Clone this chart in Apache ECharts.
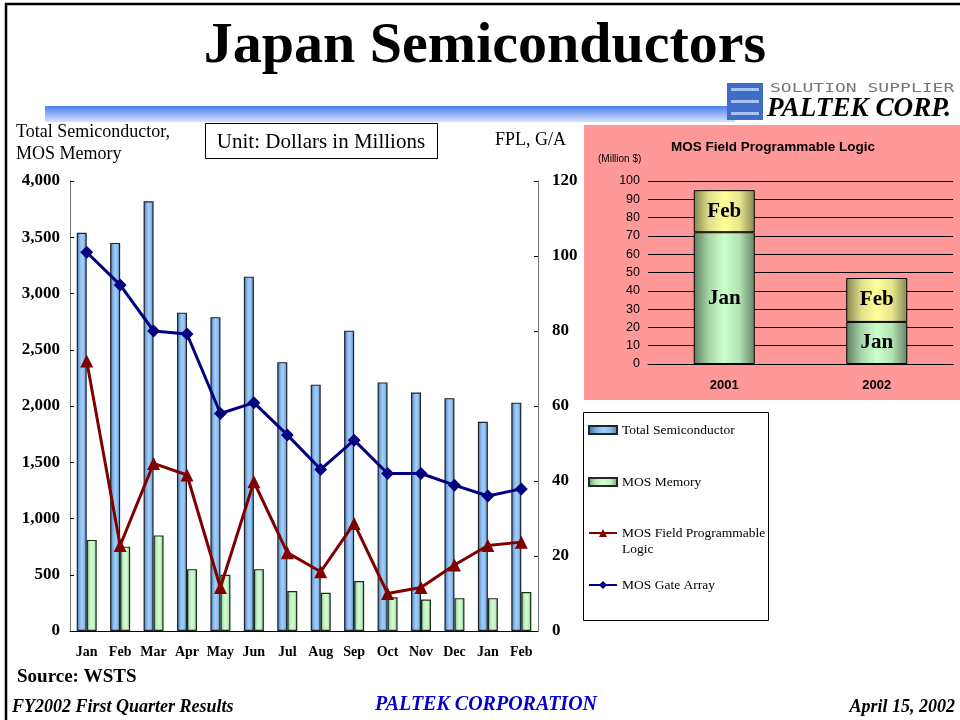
<!DOCTYPE html>
<html>
<head>
<meta charset="utf-8">
<title>Japan Semiconductors</title>
<script src="https://cdn.jsdelivr.net/npm/echarts@6/dist/echarts.min.js"></script>
<style>
  html, body { margin: 0; padding: 0; background: #fff; }
  #chart { width: 960px; height: 720px; }
</style>
</head>
<body>
<div id="chart"></div>
<script>
// monthly data, Jan 2001 .. Feb 2002
var months = ['Jan', 'Feb', 'Mar', 'Apr', 'May', 'Jun', 'Jul', 'Aug', 'Sep', 'Oct', 'Nov', 'Dec', 'Jan', 'Feb']
var totalSemi = [3540, 3450, 3820, 2830, 2790, 3150, 2390, 2190, 2670, 2210, 2120, 2070, 1860, 2030]
var mosMemory = [810, 750, 850, 550, 500, 550, 355, 340, 445, 300, 280, 292, 292, 346]
var mosFpl = [72, 22.8, 44.7, 41.6, 11.6, 39.8, 20.9, 15.8, 28.7, 10.0, 11.6, 17.6, 22.8, 23.7]
var mosGateArray = [101, 92.3, 80, 79.2, 58, 60.9, 52.3, 43.1, 50.9, 42, 42, 38.9, 36, 37.9]

// inset: FPL by year
var insetYears = ['2001', '2002']
var insetJan = [72, 23]
var insetFeb = [23, 24]

var serif = '"Liberation Serif", "Times New Roman", serif'
var sans = '"Liberation Sans", Arial, sans-serif'

function hGrad(stops) {
  return {
    type: 'linear', x: 0, y: 0, x2: 1, y2: 0,
    colorStops: stops.map(function(c, i) { return { offset: i / (stops.length - 1), color: c } })
  }
}
var blueBar = hGrad(['#3b6593', '#78a9e0', '#a6d0fa', '#8abaee', '#5280b0'])
var greenBar = hGrad(['#6a916a', '#b5e8b5', '#d3ffd3', '#c0f0c0', '#7aa17a'])
var insetGreen = hGrad(['#5d7d5d', '#a9d6a9', '#ccffcc', '#b3e3b3', '#658565'])
var insetYellow = hGrad(['#85854f', '#e0e08a', '#ffff99', '#e6e68c', '#878752'])

function comma(v) {
  return String(v).replace(/\B(?=(\d{3})+(?!\d))/g, ',')
}

function txt(text, x, y, font, opts) {
  opts = opts || {}
  return {
    type: 'text', x: x, y: y, z: 20,
    scaleX: opts.scaleX || 1,
    style: {
      text: text, font: font, fill: opts.fill || '#000',
      textAlign: opts.align || 'left', textVerticalAlign: 'middle'
    }
  }
}

var legendText = { fontFamily: serif, fontSize: 13.5, color: '#000', lineHeight: 16 }

var chart = echarts.init(document.getElementById('chart'))
var option = {
  animation: false,
  backgroundColor: '#fff',
  grid: [
    { left: 70, top: 181, width: 468, height: 450 },
    { left: 648, top: 181, width: 305, height: 183 }
  ],
  legend: [
    { left: 588, top: 422, padding: 0, itemWidth: 28, itemHeight: 8, icon: 'rect', selectedMode: false, data: ['Total Semiconductor'], textStyle: legendText },
    { left: 588, top: 474, padding: 0, itemWidth: 28, itemHeight: 8, icon: 'rect', selectedMode: false, data: ['MOS Memory'], textStyle: legendText },
    { left: 588, top: 509, padding: 0, itemWidth: 28, itemHeight: 10, selectedMode: false, data: ['MOS Field Programmable Logic'], textStyle: legendText,
      formatter: function() { return ' \nMOS Field Programmable\nLogic' } },
    { left: 588, top: 577, padding: 0, itemWidth: 28, itemHeight: 10, selectedMode: false, data: ['MOS Gate Array'], textStyle: legendText }
  ],
  xAxis: [
    {
      type: 'category', gridIndex: 0, data: months,
      axisLine: { lineStyle: { color: '#000', width: 1 } },
      axisTick: { inside: true, length: 4, lineStyle: { color: '#000' } },
      axisLabel: { interval: 0, fontFamily: serif, fontWeight: 'bold', fontSize: 14, color: '#000', margin: 14 }
    },
    {
      type: 'category', gridIndex: 1, data: insetYears,
      axisLine: { lineStyle: { color: '#000', width: 1 } },
      axisTick: { inside: true, length: 5, lineStyle: { color: '#000' } },
      axisLabel: { fontFamily: sans, fontWeight: 'bold', fontSize: 13, color: '#000', margin: 15 }
    }
  ],
  yAxis: [
    {
      type: 'value', gridIndex: 0, min: 0, max: 4000, interval: 500,
      splitLine: { show: false },
      axisLine: { show: true, lineStyle: { color: '#707070' } },
      axisTick: { show: true, inside: true, length: 4, lineStyle: { color: '#000' } },
      axisLabel: { fontFamily: serif, fontWeight: 'bold', fontSize: 17, color: '#000', margin: 10, formatter: comma }
    },
    {
      type: 'value', gridIndex: 0, position: 'right', min: 0, max: 120, interval: 20,
      splitLine: { show: false },
      axisLine: { show: true, lineStyle: { color: '#707070' } },
      axisTick: { show: true, inside: true, length: 4, lineStyle: { color: '#000' } },
      axisLabel: { fontFamily: serif, fontWeight: 'bold', fontSize: 17, color: '#000', margin: 14 }
    },
    {
      type: 'value', gridIndex: 1, min: 0, max: 100, interval: 10,
      splitLine: { show: true, lineStyle: { color: '#000', width: 1 } },
      axisLine: { show: false },
      axisTick: { show: false },
      axisLabel: { fontFamily: sans, fontSize: 12.5, color: '#000', margin: 8 }
    }
  ],
  series: [
    {
      name: 'Total Semiconductor', type: 'bar', xAxisIndex: 0, yAxisIndex: 0,
      data: totalSemi, barWidth: 10, barGap: '0%',
      itemStyle: { color: blueBar, borderColor: '#1a2530', borderWidth: 1.2 }
    },
    {
      name: 'MOS Memory', type: 'bar', xAxisIndex: 0, yAxisIndex: 0,
      data: mosMemory, barWidth: 10, barGap: '0%',
      itemStyle: { color: greenBar, borderColor: '#1f2b1f', borderWidth: 1.2 }
    },
    {
      name: 'MOS Field Programmable Logic', type: 'line', xAxisIndex: 0, yAxisIndex: 1,
      data: mosFpl, symbol: 'triangle', symbolSize: 13, color: '#800000',
      lineStyle: { width: 3, color: '#800000' }, itemStyle: { color: '#800000' }
    },
    {
      name: 'MOS Gate Array', type: 'line', xAxisIndex: 0, yAxisIndex: 1,
      data: mosGateArray, symbol: 'diamond', symbolSize: 13, color: '#000080',
      lineStyle: { width: 3, color: '#000080' }, itemStyle: { color: '#000080' }
    },
    {
      name: 'Jan', type: 'bar', xAxisIndex: 1, yAxisIndex: 2, stack: 'fpl',
      data: insetJan, barWidth: 61,
      itemStyle: { color: insetGreen, borderColor: '#000', borderWidth: 1 },
      label: { show: true, position: 'inside', formatter: '{a}', fontFamily: serif, fontWeight: 'bold', fontSize: 21, color: '#000' }
    },
    {
      name: 'Feb', type: 'bar', xAxisIndex: 1, yAxisIndex: 2, stack: 'fpl',
      data: insetFeb, barWidth: 61,
      itemStyle: { color: insetYellow, borderColor: '#000', borderWidth: 1 },
      label: { show: true, position: 'inside', formatter: '{a}', fontFamily: serif, fontWeight: 'bold', fontSize: 21, color: '#000' }
    }
  ],
  graphic: [
    // page frame
    { type: 'rect', z: -5, shape: { x: 6, y: 4, width: 1000, height: 1000 }, style: { fill: null, stroke: '#000', lineWidth: 2.5 } },
    // inset pink panel
    { type: 'rect', z: -10, shape: { x: 584, y: 125, width: 376, height: 275 }, style: { fill: '#ff9999' } },
    // header stripe
    {
      type: 'rect', z: 1, shape: { x: 45, y: 106, width: 690, height: 16 },
      style: { fill: { type: 'linear', x: 0, y: 0, x2: 0, y2: 1, colorStops: [{ offset: 0, color: '#4d7ef0' }, { offset: 1, color: '#d6e4fa' }] } }
    },
    // logo
    { type: 'rect', z: 2, shape: { x: 727, y: 83, width: 36, height: 37 }, style: { fill: '#3f6cc6' } },
    { type: 'rect', z: 3, shape: { x: 731, y: 88, width: 28, height: 3 }, style: { fill: '#a9c2f0' } },
    { type: 'rect', z: 3, shape: { x: 731, y: 100, width: 28, height: 3 }, style: { fill: '#a9c2f0' } },
    { type: 'rect', z: 3, shape: { x: 731, y: 112, width: 28, height: 3 }, style: { fill: '#a9c2f0' } },
    txt('SOLUTION SUPPLIER', 770, 89, '12px "DejaVu Sans Mono", monospace', { fill: '#777', scaleX: 1.5 }),
    txt('PALTEK CORP.', 767, 109, 'italic bold 28px ' + serif, { scaleX: 0.97 }),
    // title
    txt('Japan Semiconductors', 485, 47, 'bold 58px ' + serif, { align: 'center' }),
    // unit box
    { type: 'rect', z: 2, shape: { x: 205.5, y: 123.5, width: 232, height: 35 }, style: { fill: '#fff', stroke: '#000', lineWidth: 1 } },
    txt('Unit: Dollars in Millions', 321, 142, '21px ' + serif, { align: 'center' }),
    // axis names
    txt('Total Semiconductor,', 16, 132, '18px ' + serif),
    txt('MOS Memory', 16, 154, '18px ' + serif),
    txt('FPL, G/A', 495, 140, '18px ' + serif),
    // inset titles
    txt('MOS Field Programmable Logic', 773, 147, 'bold 13.5px ' + sans, { align: 'center' }),
    txt('(Million $)', 598, 159, '10px ' + sans),
    // legend frame
    { type: 'rect', z: 1, shape: { x: 583.5, y: 412.5, width: 185, height: 208 }, style: { fill: '#fff', stroke: '#000', lineWidth: 1 } },
    // source and footer
    txt('Source: WSTS', 17, 677, 'bold 19px ' + serif),
    txt('FY2002 First Quarter Results', 12, 707, 'italic bold 18px ' + serif),
    txt('PALTEK CORPORATION', 486, 705, 'italic bold 20px ' + serif, { align: 'center', fill: '#0000cc' }),
    txt('April 15, 2002', 955, 707, 'italic bold 18px ' + serif, { align: 'right' })
  ]
}
chart.setOption(option)
</script>
</body>
</html>
